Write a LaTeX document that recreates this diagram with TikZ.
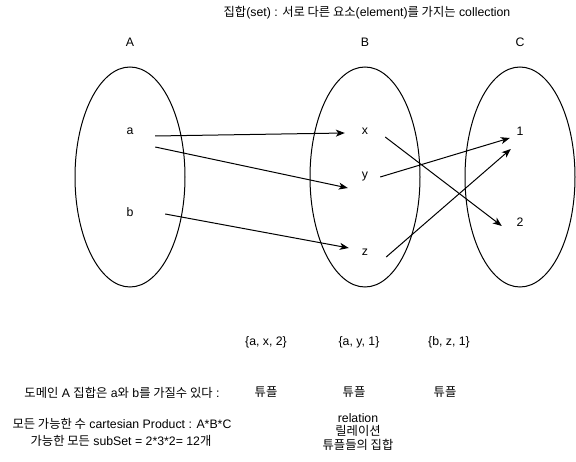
\documentclass[tikz,border=0pt]{standalone}
\usepackage{fontspec}
\setmainfont{Liberation Sans}
\newfontfamily\kr{Noto Sans CJK KR}
\usetikzlibrary{shapes.geometric, arrows.meta, positioning}

\begin{document}
\begin{tikzpicture}[x=1pt, y=-1pt, font=\fontsize{12.3}{13.5}\selectfont]
\tikzstyle{set} = [ellipse, draw, line width=1pt, minimum width=110pt, minimum height=220pt]
\tikzstyle{elem} = [inner sep=0pt, minimum width=40pt, minimum height=20pt]
\tikzstyle{txt} = [inner sep=0pt, align=center]
\tikzstyle{arrow} = [line width=1pt, ->, >={Stealth[length=9pt, width=7pt, inset=2.5pt]}]

\useasboundingbox (0,0) rectangle (576,462);

\node (title) [txt] at (367,13) {{\kr 집합}(set) : {\kr 서로 다른 요소}(element){\kr 를 가지는} collection};

% the three sets
\node (setA) [set] at (130,177) {};
\node (setB) [set] at (365,177) {};
\node (setC) [set] at (520,177) {};
\node (nameA) [txt] at (130,42) {A};
\node (nameB) [txt] at (365,42) {B};
\node (nameC) [txt] at (520,42) {C};

% elements
\node (a) [elem, minimum width=50pt] at (130,131) {a};
\node (b) [elem, minimum width=50pt] at (130,212) {b};
\node (x) [elem] at (365,131) {x};
\node (y) [elem] at (365,177) {y};
\node (z) [elem] at (365,252) {z};
\node (one) [elem, minimum width=20pt] at (520,131) {1};
\node (two) [elem, minimum width=20pt] at (520,222) {2};

\draw [arrow] ([yshift=-5pt]a.east) -- ([yshift=-2pt]x.west);
\draw [arrow] ([yshift=-16pt]a.east) -- ([xshift=3pt, yshift=-11pt]y.west);
\draw [arrow] ([xshift=10pt, yshift=-2pt]b.east) -- ([xshift=4pt, yshift=4pt]z.west);
\draw [arrow] ([yshift=-6pt]x.east) -- ([xshift=-8pt, yshift=-4pt]two.west);
\draw [arrow] ([xshift=-5pt]y.east) -- ([yshift=-7pt]one.west);
\draw [arrow] ([xshift=1pt, yshift=-5pt]z.east) -- ([xshift=1pt, yshift=-18pt]one.west);

% tuples
\node (tup1) [txt] at (266,342) {\{a, x, 2\}};
\node (tup2) [txt] at (359,342) {\{a, y, 1\}};
\node (tup3) [txt] at (449,342) {\{b, z, 1\}};
\node (tupname1) [txt] at (266,392) {\kr 튜플};
\node (tupname2) [txt] at (354,392) {\kr 튜플};
\node (tupname3) [txt] at (445,392) {\kr 튜플};
\node (relation) [txt] at (358,432) {relation\\{\kr 릴레이션}\\{\kr 튜플들의 집합}};

% notes
\node (domain) [txt] at (122,393) {{\kr 도메인} A {\kr 집합은} a{\kr 와} b{\kr 를 가질수 있다} :};
\node (product) [txt] at (122,424) {{\kr 모든 가능한 수} cartesian Product : A*B*C};
\node (subset) [txt] at (121,441) {{\kr 가능한 모든} subSet = 2*3*2= 12{\kr 개}};

\end{tikzpicture}
\end{document}
